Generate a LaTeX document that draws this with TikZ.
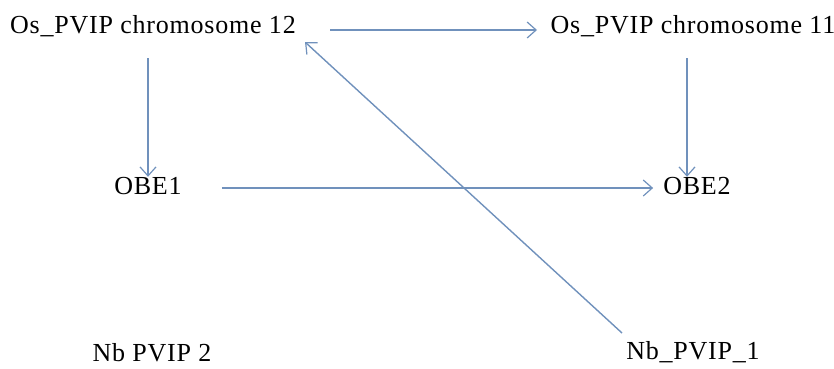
\documentclass[tikz,border=0pt]{standalone}
\usepackage{fontspec}
\setmainfont{Liberation Serif}[LetterSpace=3]
\usetikzlibrary{arrows.meta}
\definecolor{arrowblue}{RGB}{112,145,188}
\begin{document}
\begin{tikzpicture}[x=1pt,y=-1pt,
  lbl/.style={inner sep=0pt,font=\fontsize{26}{29}\selectfont,text height=17pt,text depth=5pt},
  conn/.style={draw=arrowblue,line width=1.4pt,-{Straight Barb[length=9pt,width=16pt,line width=1.2pt]}}]
\useasboundingbox (0,0) rectangle (834,368);
\node[lbl] (c12) at (153,27) {Os\_PVIP chromosome 12};
\node[lbl] (c11) at (693,27) {Os\_PVIP chromosome 11};
\node[lbl] (obe1) at (148,188) {OBE1};
\node[lbl] (obe2) at (697,188) {OBE2};
\node[lbl] (nb2) at (152,355) {Nb PVIP 2};
\node[lbl] (nb1) at (693,353) {Nb\_PVIP\_1};
\coordinate (c12e) at (330,30);
\coordinate (c11w) at (537,30);
\draw[conn] (c12e) -- (c11w);
\draw[conn] (c12.south -| obe1) ++(0,20) coordinate (c12s) (c12s) -- (obe1.north);
\draw[conn] (c11.south -| 687,0) ++(0,20) coordinate (c11s) (c11s) -- (obe2.north -| 687,0);
\draw[conn,shorten <=40pt,shorten >=10pt] (obe1.east) -- (obe2.west);
\coordinate (nb1s) at (622,333);
\coordinate (c12t) at (305,42);
\draw[conn] (nb1s) -- (c12t);
\end{tikzpicture}
\end{document}
